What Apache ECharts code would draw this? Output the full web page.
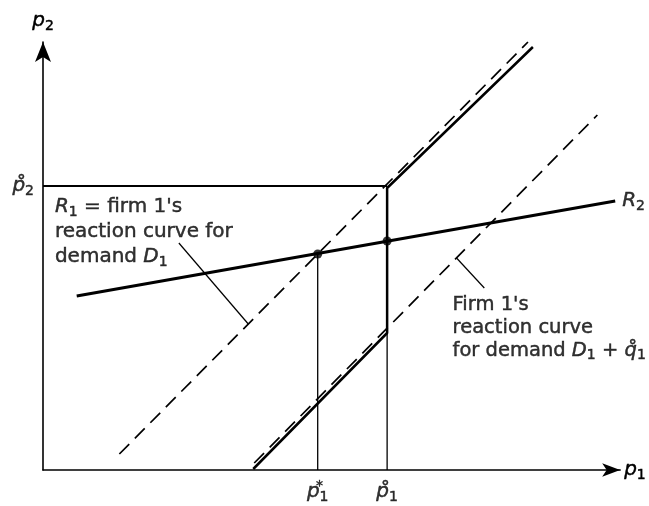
<!DOCTYPE html>
<html>
<head>
<meta charset="utf-8">
<script src="https://cdn.jsdelivr.net/npm/echarts/dist/echarts.min.js"></script>
<style>
  html, body { margin: 0; padding: 0; background: #fff; }
  #chart { width: 649px; height: 506px; }
</style>
</head>
<body>
<div id="chart"></div>
<script>
// Price plane: firm 1's price p1 across, firm 2's price p2 up (arbitrary units)
const P1_STAR = 277;   // equilibrium price under demand D1
const P1_HAT = 347;    // firm 1's price at the kink
const P2_HAT = 284;    // firm 2's price at the kink

// Firm 2's reaction curve R2
const R2_CURVE = [[34, 174], [577, 269]];
// Firm 1's reaction curve for demand D1 (dashed)
const R1_DEMAND_D1 = [[77, 16], [489, 428]];
// Firm 1's reaction curve for demand D1 + q1 (dashed)
const R1_DEMAND_SHIFTED = [[213, 7], [559, 355]];
// Firm 1's kinked reaction curve (solid)
const R1_KINKED = [[212, 1], [P1_HAT, 137], [P1_HAT, 282], [494, 423]];
// Intersections with R2
const EQUILIBRIA = [[P1_STAR, 216], [P1_HAT, 229]];
// Guide lines down to the axes and across to p2
const GUIDE_P1_STAR = [[P1_STAR, 0], [P1_STAR, 216]];
const GUIDE_P1_HAT = [[P1_HAT, 0], [P1_HAT, 137]];
const GUIDE_P2_HAT = [[0, P2_HAT], [P1_HAT, P2_HAT]];
// Pointer lines from the captions to their curves
const LEADER_D1 = [[137, 227], [207, 146]];
const LEADER_SHIFTED = [[445, 182], [417, 212]];

const FONT = 'DejaVu Sans';
const INK = '#000';

function richSet(size, lh) {
  const ink = { color: INK, textBorderColor: INK, textBorderWidth: 0.45 };
  return {
    i: Object.assign({ fontFamily: FONT, fontStyle: 'italic', fontSize: size, lineHeight: lh }, ink),
    t: Object.assign({ fontFamily: FONT, fontSize: size, lineHeight: lh }, ink),
    s: Object.assign({ fontFamily: FONT, fontSize: Math.round(size * 0.72), lineHeight: 12, verticalAlign: 'bottom' }, ink),
    u: Object.assign({ fontFamily: FONT, fontSize: Math.round(size * 0.7), lineHeight: 12, verticalAlign: 'top', width: 0 }, ink)
  };
}

function segment(data, width, type, z) {
  return {
    type: 'line', data: data, symbol: 'none', clip: false, silent: true, z: z || 2,
    lineStyle: { color: INK, width: width, type: type || 'solid', cap: 'butt' }
  };
}

function textAt(point, formatter, labelOpts) {
  return {
    type: 'scatter', data: [point], symbolSize: 0, silent: true, z: 5,
    label: Object.assign({ show: true, color: INK, formatter: formatter }, labelOpts)
  };
}

const chart = echarts.init(document.getElementById('chart'), null, { renderer: 'canvas' });

chart.setOption({
  animation: false,
  backgroundColor: '#fff',
  grid: { left: 43, top: 42, width: 582, height: 428 },
  xAxis: {
    type: 'value', min: 0, max: 582,
    axisLine: { show: true, symbol: ['none', 'arrow'], symbolSize: [10, 18], lineStyle: { color: INK, width: 1.6 } },
    axisTick: { show: false }, axisLabel: { show: false }, splitLine: { show: false },
    name: '{i|p}{s|1}', nameLocation: 'end', nameGap: 4,
    nameTextStyle: { rich: richSet(20, 25), align: 'left', verticalAlign: 'middle' }
  },
  yAxis: {
    type: 'value', min: 0, max: 428,
    axisLine: { show: true, symbol: ['none', 'arrow'], symbolSize: [12, 20], lineStyle: { color: INK, width: 1.6 } },
    axisTick: { show: false }, axisLabel: { show: false }, splitLine: { show: false },
    name: '{i|p}{s|2}', nameLocation: 'end', nameGap: 9,
    nameTextStyle: { rich: richSet(20, 25), align: 'center' }
  },
  series: [
    segment(GUIDE_P1_STAR, 1.3),
    segment(GUIDE_P1_HAT, 1.3),
    segment(GUIDE_P2_HAT, 1.9),
    segment(R1_DEMAND_D1, 1.7, [14, 8]),
    segment(R1_DEMAND_SHIFTED, 1.7, [14, 8]),
    segment(R1_KINKED, 2.5, 'solid', 3),
    segment(R2_CURVE, 3, 'solid', 3),
    segment(LEADER_D1, 1.2),
    segment(LEADER_SHIFTED, 1.2),
    {
      type: 'scatter', data: EQUILIBRIA, symbol: 'circle', symbolSize: 9, silent: true, z: 4,
      itemStyle: { color: INK }
    },
    textAt(R2_CURVE[1], '{i|R}{s|2}', { position: 'right', distance: 7, rich: richSet(20, 25) }),
    textAt([0, P2_HAT], '{i|p\u030A}{s|2}', { position: 'left', distance: 9, rich: richSet(20, 25) }),
    textAt([P1_STAR, 0], '{i|p}{u|*}{s|1}', { position: 'bottom', distance: 9, rich: richSet(20, 25) }),
    textAt([P1_HAT, 0], '{i|p\u030A}{s|1}', { position: 'bottom', distance: 9, rich: richSet(20, 25) }),
    textAt([12, 276],
      "{i|R}{s|1}{t| = firm 1's}\n{t|reaction curve for}\n{t|demand }{i|D}{s|1}",
      { position: [0, 0], align: 'left', verticalAlign: 'top', rich: richSet(20, 25) }),
    textAt([413, 177],
      "{t|Firm 1's}\n{t|reaction curve}\n{t|for demand }{i|D}{s|1}{t| + }{i|q\u030A}{s|1}",
      { position: [0, 0], align: 'left', verticalAlign: 'top', rich: richSet(19.5, 23) })
  ]
});
</script>
</body>
</html>
